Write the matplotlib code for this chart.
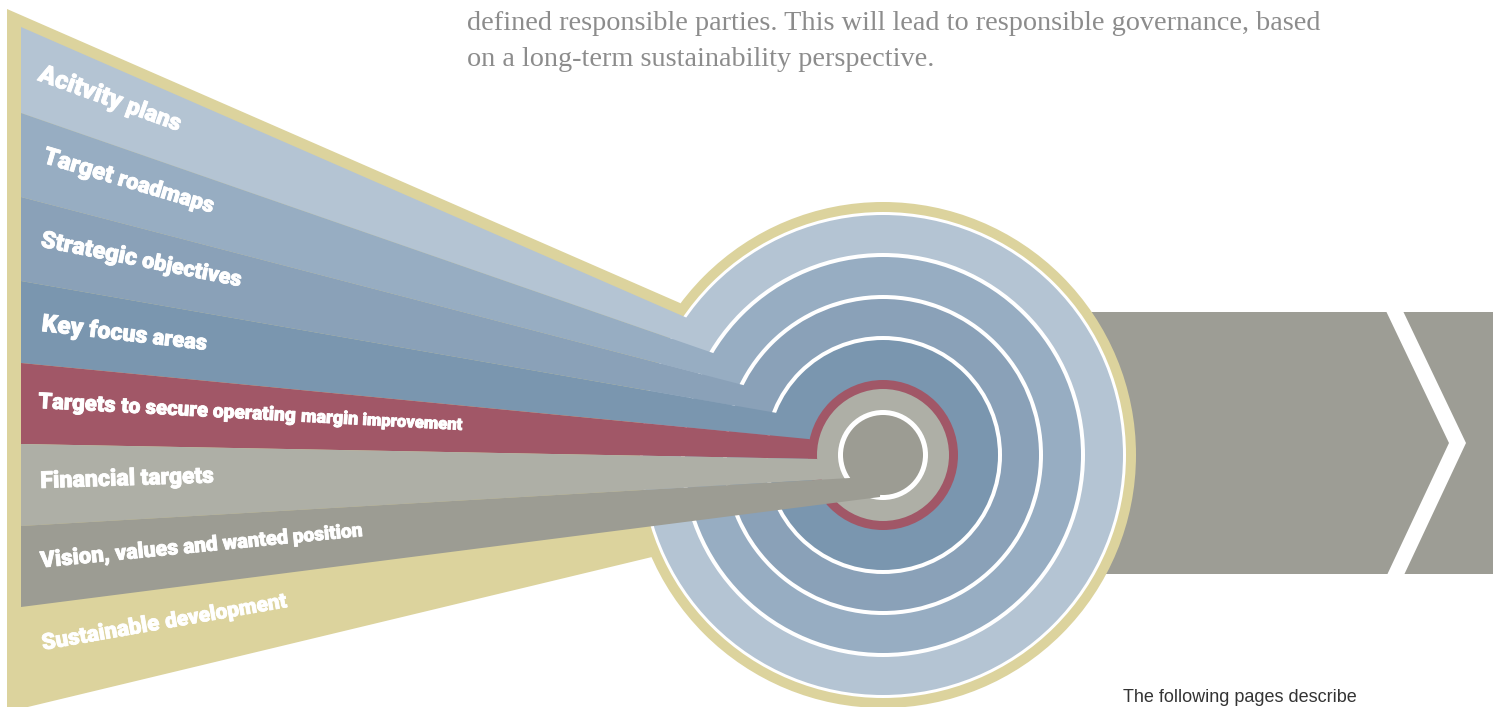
import math
import matplotlib
matplotlib.use("Agg")
import matplotlib.pyplot as plt
from matplotlib.patches import Polygon, Circle, Rectangle
from matplotlib import font_manager as fm
from matplotlib.font_manager import FontProperties
import matplotlib.patheffects as pe

W, H = 1493, 707

# ---------------- data ----------------
labels = ["Acitvity plans", "Target roadmaps", "Strategic objectives", "Key focus areas",
          "Targets to secure operating margin improvement", "Financial targets",
          "Vision, values and wanted position", "Sustainable development"]
band_colors = ["#B4C4D3", "#97ADC2", "#8AA1B8", "#7A96AF", "#A15767", "#AEAFA6", "#9C9C93"]
gold = "#DCD39D"
arrow_gray = "#9D9D95"

# band boundary lines: start at left edge x=21, run toward the circle end points
edge_left_x = 21
edge_left_y = [27, 113, 197, 281, 363, 444, 526, 607]
edge_end_x = [685, 713, 743, 777, 808, 818, 850, 880]
edge_end_y = [317, 353, 385, 413, 439, 459, 478, 497]

# rings (outer, inner radius) for each band colour
cx, cy = 883, 455
ring_outer = [240, 198, 156, 115, 75, 66, 40]
ring_inner = [202, 160, 119, 75, 66, 45, 0]
white_outer = 243
gold_outer = 253

# label baselines: start point, end point, shrink factor (perspective)
label_x0 = [37, 42, 40, 41, 38, 40.5, 41, 43]
label_y0 = [80, 162.5, 246.5, 331, 408, 488, 567.5, 650]
label_x1 = [178, 212.5, 240.5, 206, 462.5, 214, 363, 287.5]
label_y1 = [131, 213, 286.5, 350, 430, 482.5, 536, 607]
label_shrink = [0.85, 0.85, 0.85, 0.85, 0.7, 0.95, 0.82, 0.88]

top_lines = ["defined responsible parties. This will lead to responsible governance, based",
             "on a long-term sustainability perspective."]
bottom_line = "The following pages describe"

# ---------------- fonts ----------------
pref = ["Roboto", "Lato", "Noto Sans", "Open Sans", "Inter", "Liberation Sans", "DejaVu Sans"]
best = None
for fe in fm.fontManager.ttflist:
    if fe.name in pref and fe.style == "normal" and fe.stretch in ("normal", 500, "medium"):
        wgt = fe.weight
        if isinstance(wgt, str):
            wgt = fm.weight_dict.get(wgt, 400)
        key = (wgt, -pref.index(fe.name))
        if best is None or key > best[0]:
            best = (key, fe.fname)
lab_fp = FontProperties(fname=best[1]) if best else FontProperties(family="DejaVu Sans", weight="bold")
heavy = [pe.withStroke(linewidth=0.6, foreground="white")]

# ---------------- figure ----------------
fig = plt.figure(figsize=(W / 100, H / 100), dpi=100)
ax = fig.add_axes([0, 0, 1, 1])
ax.set_xlim(0, W)
ax.set_ylim(H, 0)
ax.axis("off")
renderer = fig.canvas.get_renderer()


def hit(i, r):
    """first intersection of boundary line i with circle of radius r"""
    x0, y0 = edge_left_x, edge_left_y[i]
    x1, y1 = edge_end_x[i], edge_end_y[i]
    dx, dy = x1 - x0, y1 - y0
    fx, fy = x0 - cx, y0 - cy
    a = dx * dx + dy * dy
    b = 2 * (fx * dx + fy * dy)
    c = fx * fx + fy * fy - r * r
    disc = b * b - 4 * a * c
    if disc < 0:
        return (x1, y1)
    t = (-b - math.sqrt(disc)) / (2 * a)
    return (x0 + t * dx, y0 + t * dy)


# arrow behind the circle
ax.add_patch(Rectangle((1000, 312), W - 1000 + 5, 262, facecolor=arrow_gray, edgecolor="none", zorder=1))
ax.add_patch(Polygon([(1386, 311), (1403, 311), (1466, 443), (1404, 575), (1387, 575), (1449, 443)],
                     closed=True, facecolor="white", edgecolor="none", zorder=1.5))

# gold frame of the fan
ax.add_patch(Polygon([(7, 9), (680, 303), (cx, cy), (652, 557), (7, 712)], closed=True,
                     facecolor=gold, edgecolor="none", zorder=2))

# concentric rings
z = 3
ax.add_patch(Circle((cx, cy), gold_outer, facecolor=gold, edgecolor="none", zorder=z))
ax.add_patch(Circle((cx, cy), white_outer, facecolor="white", edgecolor="none", zorder=z + 0.1))
k = 0.2
for i in range(len(band_colors)):
    if i > 0 and ring_outer[i] < ring_inner[i - 1]:
        ax.add_patch(Circle((cx, cy), ring_inner[i - 1], facecolor="white", edgecolor="none", zorder=z + k))
        k += 0.1
    ax.add_patch(Circle((cx, cy), ring_outer[i], facecolor=band_colors[i], edgecolor="none", zorder=z + k))
    k += 0.1

# bands of the fan
n_b = len(band_colors)
for i in range(n_b):
    top_l = (edge_left_x, edge_left_y[i])
    bot_l = (edge_left_x, edge_left_y[i + 1])
    top_r = hit(i, ring_outer[i])
    if i < n_b - 1:
        bot_r = hit(i + 1, ring_inner[i])
        pts = [top_l, top_r, bot_r, bot_l]
    else:
        pts = [top_l, top_r, (cx, cy), (edge_end_x[i + 1], edge_end_y[i + 1]), bot_l]
    ax.add_patch(Polygon(pts, closed=True, facecolor=band_colors[i], edgecolor="none", zorder=10))


# ---------------- text ----------------
def text_width(s, size, fp=None, **kw):
    if fp is not None:
        fp = fp.copy()
        fp.set_size(size)
        t = ax.text(0, 0, s, fontproperties=fp, **kw)
    else:
        t = ax.text(0, 0, s, fontsize=size, **kw)
    w = t.get_window_extent(renderer).width
    t.remove()
    return w


def place_label(s, x0, y0, x1, y1, shrink, base=16.0):
    words = s.split()
    n = len(words)
    f = [1.0] * n
    for _ in range(4):
        widths = [text_width(w, base * fj, lab_fp) for w, fj in zip(words, f)]
        spaces = [0.25 * base * fj * 100 / 72 for fj in f]
        starts, p = [], 0.0
        for j in range(n):
            starts.append(p)
            p += widths[j] + spaces[j]
        total = p - spaces[-1]
        f = [1 - (1 - shrink) * (starts[j] + widths[j] / 2) / total for j in range(n)]
    widths = [text_width(w, base * fj, lab_fp) for w, fj in zip(words, f)]
    spaces = [0.25 * base * fj * 100 / 72 for fj in f]
    total = sum(widths) + sum(spaces[:-1])
    L = math.hypot(x1 - x0, y1 - y0)
    sc = L / total
    ang = math.degrees(math.atan2(y1 - y0, x1 - x0))
    ux, uy = (x1 - x0) / L, (y1 - y0) / L
    p = 0.0
    for j, w in enumerate(words):
        fp = lab_fp.copy()
        fp.set_size(base * f[j] * sc)
        ax.text(x0 + ux * p, y0 + uy * p, w, fontproperties=fp, rotation=-ang,
                rotation_mode="anchor", ha="left", va="baseline", color="white", zorder=20,
                path_effects=heavy)
        p += widths[j] * sc + spaces[j] * sc


for i, s in enumerate(labels):
    place_label(s, label_x0[i], label_y0[i], label_x1[i], label_y1[i], label_shrink[i])

# top paragraph (fit width of the first line)
serif_kw = dict(fontfamily=["Liberation Serif", "DejaVu Serif"])
w20 = text_width(top_lines[0], 20, **serif_kw)
top_size = 20 * (1322 - 467) / w20
for s, yb in zip(top_lines, [30, 66]):
    ax.text(467, yb, s, fontsize=top_size, color="#8C8C8C", ha="left", va="baseline", zorder=20, **serif_kw)

sans_kw = dict(fontfamily=["Liberation Sans", "DejaVu Sans"])
w12 = text_width(bottom_line, 12, **sans_kw)
ax.text(1123, 702, bottom_line, fontsize=12 * 234 / w12, color="#333333", ha="left", va="baseline",
        zorder=20, **sans_kw)

fig.savefig("out.png", dpi=100)
